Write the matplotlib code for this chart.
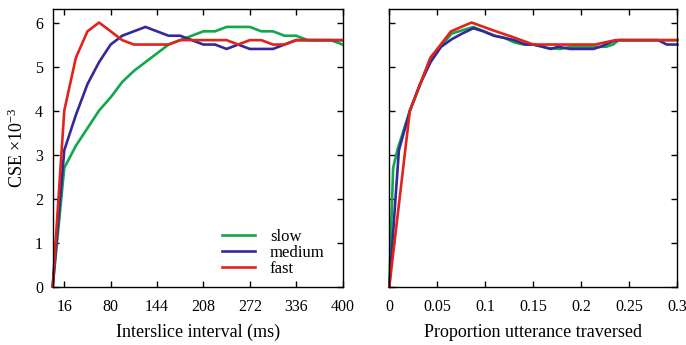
import matplotlib.pyplot as plt
import numpy as np

plt.rcParams['font.family'] = ['Liberation Serif', 'DejaVu Serif']
plt.rcParams['mathtext.fontset'] = 'custom'
plt.rcParams['mathtext.rm'] = 'Liberation Serif'
plt.rcParams['mathtext.it'] = 'Liberation Serif:italic'

# left panel: interslice interval (ms)
interval = np.arange(0, 401, 16)
slow_int = [0, 2.7, 3.2, 3.6, 4.0, 4.3, 4.65, 4.9, 5.1, 5.3, 5.5, 5.6, 5.7,
            5.8, 5.8, 5.9, 5.9, 5.9, 5.8, 5.8, 5.7, 5.7, 5.6, 5.6, 5.6, 5.5]
medium_int = [0, 3.1, 3.9, 4.6, 5.1, 5.5, 5.7, 5.8, 5.9, 5.8, 5.7, 5.7, 5.6,
              5.5, 5.5, 5.4, 5.5, 5.4, 5.4, 5.4, 5.5, 5.6, 5.6, 5.6, 5.6, 5.6]
fast_int = [0, 4.0, 5.2, 5.8, 6.0, 5.8, 5.6, 5.5, 5.5, 5.5, 5.5, 5.6, 5.6,
            5.6, 5.6, 5.6, 5.5, 5.6, 5.6, 5.5, 5.5, 5.6, 5.6, 5.6, 5.6, 5.6]

# right panel: proportion of utterance traversed
slow_x = [0, 0.004, 0.009, 0.0215, 0.043, 0.065, 0.0875, 0.11, 0.12, 0.13,
          0.14, 0.15, 0.165, 0.178, 0.19, 0.215, 0.226, 0.233, 0.239, 0.3]
slow_prop = [0, 2.7, 3.15, 4.0, 5.2, 5.75, 5.9, 5.7, 5.65, 5.55,
             5.5, 5.5, 5.42, 5.4, 5.45, 5.45, 5.45, 5.5, 5.6, 5.6]
medium_x = [0, 0.010, 0.0215, 0.032, 0.043, 0.054, 0.065, 0.076, 0.0875, 0.098,
            0.109, 0.12, 0.13, 0.142, 0.15, 0.16, 0.168, 0.176, 0.188, 0.2125,
            0.22, 0.2336, 0.239, 0.28, 0.289, 0.3]
medium_prop = [0, 3.1, 4.0, 4.6, 5.1, 5.45, 5.62, 5.75, 5.87, 5.8,
               5.7, 5.65, 5.6, 5.5, 5.5, 5.45, 5.4, 5.45, 5.4, 5.4,
               5.45, 5.58, 5.6, 5.6, 5.5, 5.5]
fast_x = np.arange(15) * 0.3 / 14
fast_prop = [0, 4.0, 5.2, 5.8, 6.0, 5.83, 5.67, 5.5, 5.5, 5.5, 5.5, 5.6, 5.6, 5.6, 5.6]

labels = ['slow', 'medium', 'fast']
colors = ['#10a84a', '#33299a', '#e2231a']

fig = plt.figure(figsize=(6.86, 3.45), dpi=100)
ax1 = fig.add_axes([0.0768, 0.169, 0.4225, 0.804])
ax2 = fig.add_axes([0.5675, 0.169, 0.4198, 0.804])

for ys, c, lab in zip([slow_int, medium_int, fast_int], colors, labels):
    ax1.plot(interval, ys, color=c, lw=1.9, label=lab, clip_on=False)
for xs, ys, c in zip([slow_x, medium_x, fast_x], [slow_prop, medium_prop, fast_prop], colors):
    ax2.plot(xs, ys, color=c, lw=1.9, clip_on=False)

ax1.set_xlim(0, 400)
ax1.set_xticks([16, 80, 144, 208, 272, 336, 400])
ax2.set_xlim(0, 0.3)
ax2.set_xticks([0, 0.05, 0.1, 0.15, 0.2, 0.25, 0.3])
ax2.set_xticklabels(['0', '0.05', '0.1', '0.15', '0.2', '0.25', '0.3'])

for ax in (ax1, ax2):
    ax.set_ylim(0, 6.3)
    ax.set_yticks(range(7))
    ax.tick_params(direction='in', top=True, right=True, length=4, width=1,
                   labelsize=11.5)
    ax.tick_params(axis='x', pad=9)
    ax.tick_params(axis='y', pad=7)
    for s in ax.spines.values():
        s.set_linewidth(1)
ax2.set_yticklabels([])

ax1.set_xlabel('Interslice interval (ms)', fontsize=13, labelpad=6)
ax2.set_xlabel('Proportion utterance traversed', fontsize=13, labelpad=6)
ax1.set_ylabel(r'CSE $\times10^{-3}$', fontsize=13, labelpad=6)

ax1.legend(loc='lower right', bbox_to_anchor=(0.99, -0.02), frameon=False,
           fontsize=12, handlelength=2.0, labelspacing=0.02, handletextpad=0.9)

fig.savefig('out.png', dpi=100)
